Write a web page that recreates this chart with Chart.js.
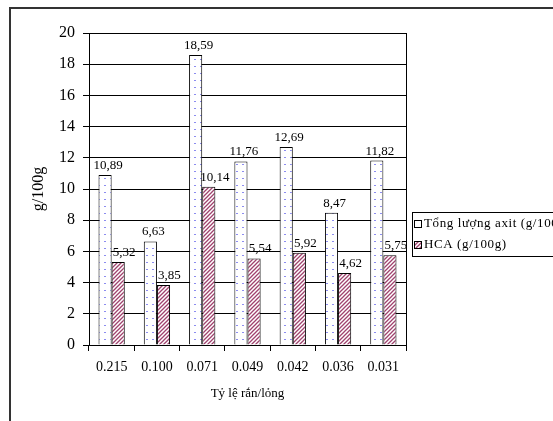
<!DOCTYPE html>
<html>
<head>
<meta charset="utf-8">
<script src="https://cdn.jsdelivr.net/npm/chart.js@4"></script>
<style>
  html, body { margin: 0; padding: 0; background: #fff; overflow: hidden; }
  #frame { position: absolute; left: 9px; top: 7px; width: 600px; height: 430px; border: 2px solid #333; box-sizing: border-box; }
  #wrap { position: absolute; left: 0; top: 0; width: 553px; height: 421px; }
</style>
</head>
<body>
<div id="frame"></div>
<div id="wrap"><canvas id="c" width="553" height="421"></canvas></div>
<script>
// data
const ratios = ['0.215', '0.100', '0.071', '0.049', '0.042', '0.036', '0.031'];
const totalAcid = [10.89, 6.63, 18.59, 11.76, 12.69, 8.47, 11.82];
const hca = [5.32, 3.85, 10.14, 5.54, 5.92, 4.62, 5.75];
const seriesNames = ['Tổng lượng axit (g/100g)', 'HCA (g/100g)'];

const serif = '"Liberation Serif", "Times New Roman", serif';

// fill patterns like the old Excel ones
function dotPattern() {
  const t = document.createElement('canvas');
  t.width = 6; t.height = 7;
  const g = t.getContext('2d');
  g.fillStyle = '#fff'; g.fillRect(0, 0, 6, 7);
  g.fillStyle = '#8c8cf0'; g.fillRect(2, 3, 2, 1);
  return g.createPattern(t, 'repeat');
}
function stripePattern() {
  const t = document.createElement('canvas');
  t.width = 4; t.height = 4;
  const g = t.getContext('2d');
  g.fillStyle = '#fff'; g.fillRect(0, 0, 4, 4);
  g.strokeStyle = '#a0426e'; g.lineWidth = 1.3;
  g.beginPath();
  g.moveTo(-1, 5); g.lineTo(5, -1);
  g.moveTo(-1, 1); g.lineTo(1, -1);
  g.moveTo(3, 5); g.lineTo(5, 3);
  g.stroke();
  return g.createPattern(t, 'repeat');
}
const fills = [dotPattern(), stripePattern()];

const extras = {
  id: 'extras',
  afterDraw(chart) {
    const ctx = chart.ctx, a = chart.chartArea;
    ctx.save();
    // right frame of the plot
    ctx.strokeStyle = '#000'; ctx.lineWidth = 1;
    ctx.beginPath();
    ctx.moveTo(Math.round(a.right) + 0.5, a.top);
    ctx.lineTo(Math.round(a.right) + 0.5, a.bottom);
    ctx.stroke();

    // value labels
    ctx.font = '13px ' + serif;
    ctx.fillStyle = '#000';
    ctx.textAlign = 'center';
    ctx.textBaseline = 'bottom';
    chart.data.datasets.forEach((ds, i) => {
      chart.getDatasetMeta(i).data.forEach((bar, j) => {
        ctx.fillText(ds.data[j].toFixed(2).replace('.', ','), bar.x + (i ? 6 : 3), bar.y - 3);
      });
    });

    // legend box
    const lx = 412, ly = 212;
    ctx.strokeStyle = '#000';
    ctx.strokeRect(lx + 0.5, ly + 0.5, 200, 44);
    ctx.font = '13px ' + serif;
    ctx.letterSpacing = '0.6px';
    ctx.textAlign = 'left';
    ctx.textBaseline = 'middle';
    seriesNames.forEach((name, i) => {
      const cy = ly + 12 + i * 21;
      ctx.fillStyle = fills[i];
      ctx.fillRect(lx + 2, cy - 3, 7, 7);
      ctx.strokeRect(lx + 2.5, cy - 3.5, 7, 7);
      ctx.fillStyle = '#000';
      ctx.fillText(name, lx + 12, cy);
    });
    ctx.restore();
  }
};

new Chart(document.getElementById('c'), {
  type: 'bar',
  data: {
    labels: ratios,
    datasets: [
      { label: seriesNames[0], data: totalAcid, backgroundColor: fills[0], borderColor: '#000', borderWidth: 1 },
      { label: seriesNames[1], data: hca, backgroundColor: fills[1], borderColor: '#000', borderWidth: 1 }
    ]
  },
  options: {
    responsive: false,
    animation: false,
    devicePixelRatio: 1,
    layout: { padding: { left: 0, top: 33, right: 147, bottom: 0 } },
    datasets: { bar: { categoryPercentage: 0.58, barPercentage: 1 } },
    plugins: { legend: { display: false }, tooltip: { enabled: false } },
    scales: {
      x: {
        afterFit(s) { s.height = 76; },
        grid: { drawOnChartArea: false, offset: true, color: '#000', tickLength: 6 },
        border: { color: '#000' },
        ticks: { color: '#000', font: { family: serif, size: 14 }, padding: 8 },
        title: { display: true, text: 'Tỷ lệ rắn/lỏng', color: '#000', font: { family: serif, size: 13 }, padding: { top: 4, bottom: 20 } }
      },
      y: {
        min: 0, max: 20,
        afterFit(s) { s.width = 89; },
        grid: { color: '#000', tickLength: 6 },
        border: { color: '#000' },
        ticks: { stepSize: 2, color: '#000', font: { family: serif, size: 16 }, padding: 8 },
        title: { display: true, text: 'g/100g', color: '#000', font: { family: serif, size: 16 }, padding: { top: 29, bottom: 0 } }
      }
    }
  },
  plugins: [extras]
});
</script>
</body>
</html>
